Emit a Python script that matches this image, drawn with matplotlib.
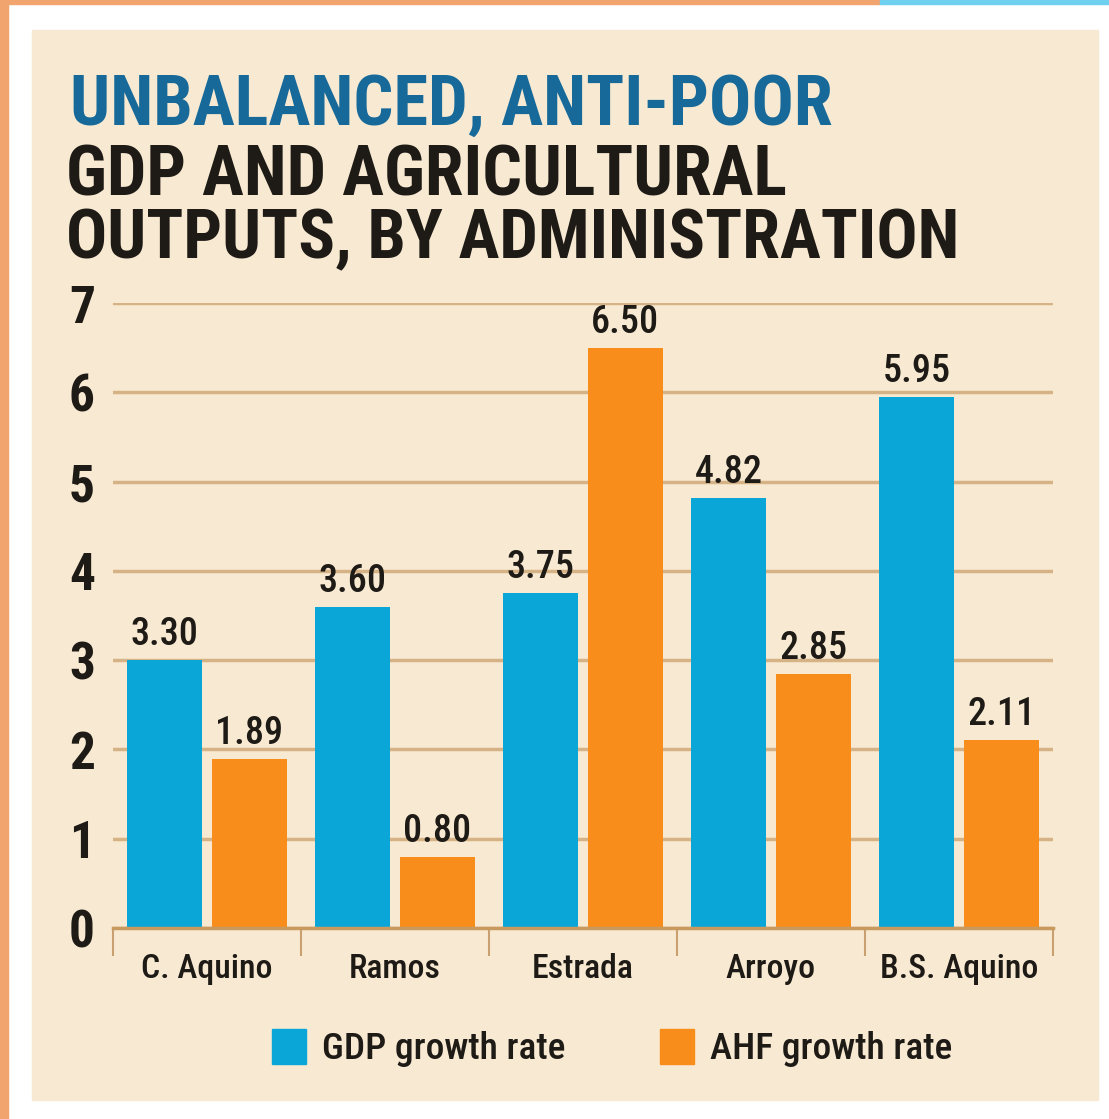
import matplotlib
matplotlib.use('Agg')

import matplotlib.pyplot as plt
from matplotlib import font_manager as fm
from matplotlib.patches import Patch, Rectangle

ADMINS = ['C. Aquino', 'Ramos', 'Estrada', 'Arroyo', 'B.S. Aquino']
# bar heights as drawn in the original (C. Aquino GDP bar drawn at ~3.0)
GDP = [3.00, 3.60, 3.75, 4.82, 5.95]
AHF = [1.89, 0.80, 6.50, 2.85, 2.11]
GDP_LABELS = ['3.30', '3.60', '3.75', '4.82', '5.95']
AHF_LABELS = ['1.89', '0.80', '6.50', '2.85', '2.11']
YTICKS = [0, 1, 2, 3, 4, 5, 6, 7]
TITLE = ['UNBALANCED, ANTI-POOR', 'GDP AND AGRICULTURAL', 'OUTPUTS, BY ADMINISTRATION']
LEGEND = ['GDP growth rate', 'AHF growth rate']

BLUE = '#0aa6d8'
ORANGE = '#f88d1c'
PANEL = '#f8ead2'
GRID = '#d6b386'
TEXT = '#1e1a16'

def pick_font(candidates):
  for name in candidates:
    try:
      fm.findfont(fm.FontProperties(family = name), fallback_to_default = False)
      return name
    except Exception:
      pass
  return 'DejaVu Sans'

FONT = pick_font(['Roboto Condensed', 'Liberation Sans Narrow', 'Open Sans Condensed',
                  'DejaVu Sans Condensed', 'Liberation Sans'])
plt.rcParams['font.family'] = [FONT, 'DejaVu Sans']

W, H = 1109, 1119
fig = plt.figure(figsize = (W / 100., H / 100.), dpi = 100)
fig.patch.set_facecolor('white')
renderer = fig.canvas.get_renderer()

def fit_size(s, target_px, **kw):
  t = fig.text(0, 0, s, fontsize = 40, **kw)
  w = t.get_window_extent(renderer).width
  t.remove()
  return 40. * target_px / w

# frame decorations
fig.add_artist(Rectangle((0, 0), 8. / W, 1, transform = fig.transFigure, color = '#f2a46e', zorder = 0))
fig.add_artist(Rectangle((0, 1 - 4. / H), 880. / W, 4. / H, transform = fig.transFigure, color = '#f2a46e', zorder = 0))
fig.add_artist(Rectangle((880. / W, 1 - 4. / H), 1 - 880. / W, 4. / H, transform = fig.transFigure, color = '#6fd0f0', zorder = 0))
fig.add_artist(Rectangle((32. / W, 1 - 1100. / H), (1098. - 32.) / W, (1100. - 30.) / H,
                         transform = fig.transFigure, color = PANEL, zorder = 0))

# titles: (text, colour, left px, baseline px, width px)
title_specs = [
  (TITLE[0], '#17699a', 70., 125., 762.),
  (TITLE[1], TEXT, 66., 195., 719.),
  (TITLE[2], TEXT, 66., 258., 892.),
]
for txt, col, x0, base, wpx in title_specs:
  size = fit_size(txt, wpx, fontweight = 'bold')
  fig.text(x0 / W, 1 - base / H, txt, color = col, fontsize = size, fontweight = 'bold',
           va = 'baseline', ha = 'left')

ax = fig.add_axes([113. / W, 1 - 928. / H, (1053. - 113.) / W, (928. - 303.) / H])
ax.set_facecolor('none')

xs = list(range(len(ADMINS)))
width = 0.4
off = 0.225
bars_gdp = ax.bar([x - off for x in xs], GDP, width = width, color = BLUE, zorder = 3)
bars_ahf = ax.bar([x + off for x in xs], AHF, width = width, color = ORANGE, zorder = 3)

val_size = fit_size('6.50', 68., fontweight = 'medium')
for bars, labels in ((bars_gdp, GDP_LABELS), (bars_ahf, AHF_LABELS)):
  for bar, lab in zip(bars, labels):
    ax.annotate(lab, (bar.get_x() + bar.get_width() / 2., bar.get_height()),
                xytext = (0, 5), textcoords = 'offset points', ha = 'center', va = 'bottom',
                fontsize = val_size, fontweight = 'medium', color = TEXT, zorder = 4)

ax.set_xlim(-0.5, len(ADMINS) - 0.5)
ax.set_ylim(0, 7)
ax.set_yticks(YTICKS)
ax.set_yticklabels([str(v) for v in YTICKS], fontsize = 37, fontweight = 'bold', color = TEXT)
ax.tick_params(axis = 'y', length = 0, pad = 13)
ax.yaxis.grid(True, color = GRID, lw = 2.5, zorder = 1)
ax.set_axisbelow(True)

cat_size = fit_size('B.S. Aquino', 158., fontweight = 'medium')
ax.set_xticks(xs)
ax.set_xticklabels(ADMINS, fontsize = cat_size, fontweight = 'medium', color = TEXT)
ax.set_xticks([x - 0.5 for x in xs] + [len(ADMINS) - 0.5], minor = True)
ax.tick_params(axis = 'x', which = 'major', length = 0, pad = 18)
ax.tick_params(axis = 'x', which = 'minor', length = 20, width = 1.5, color = '#c9a070', direction = 'out')

for side in ('top', 'right', 'left'):
  ax.spines[side].set_visible(False)
ax.spines['bottom'].set_color('#c99a60')
ax.spines['bottom'].set_linewidth(2.5)
ax.spines['bottom'].set_zorder(4)

leg_size = fit_size(LEGEND[0], 243., fontweight = 'medium')
handles = [Patch(color = BLUE, label = LEGEND[0]), Patch(color = ORANGE, label = LEGEND[1])]
leg_px = leg_size * 100. / 72.
leg = fig.legend(handles = handles, loc = 'center', bbox_to_anchor = (612. / W, 1 - 1048. / H), ncol = 2,
                 frameon = False, fontsize = leg_size, handlelength = 34. / leg_px, handleheight = 40. / leg_px,
                 handletextpad = 16. / leg_px, columnspacing = 95. / leg_px, labelcolor = TEXT,
                 borderaxespad = 0, borderpad = 0)
for t in leg.get_texts():
  t.set_fontweight('medium')

fig.savefig('out.png', dpi = 100)
